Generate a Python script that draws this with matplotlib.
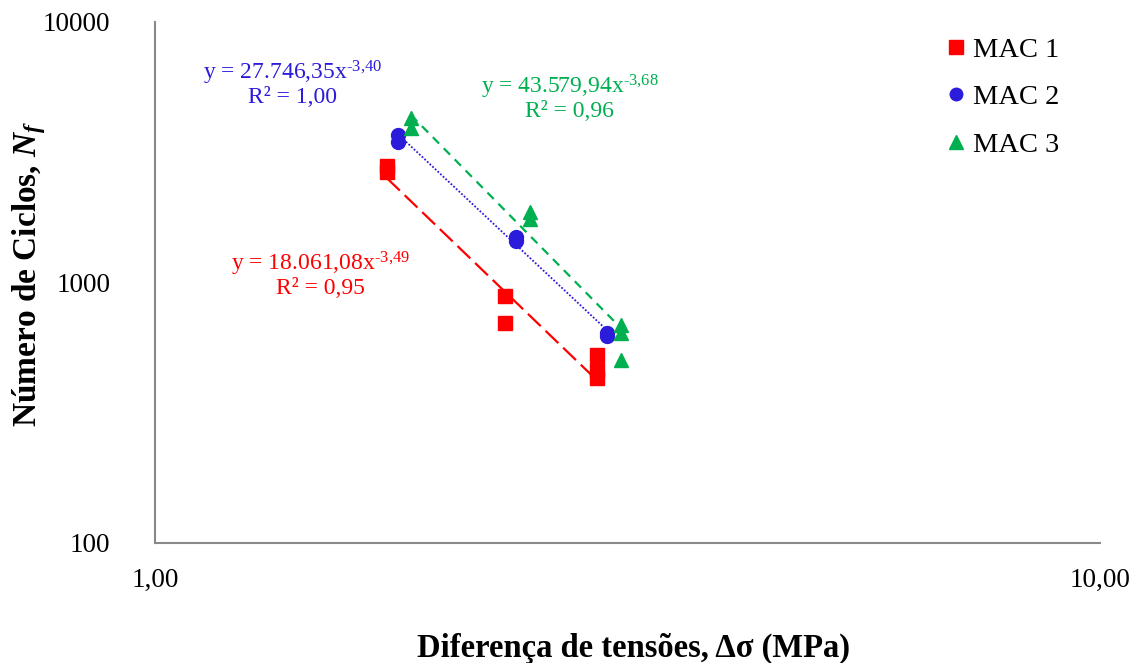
import numpy as np
import matplotlib
matplotlib.use("Agg")
import matplotlib.pyplot as plt
from matplotlib.ticker import FixedLocator, NullLocator

# data (stress difference in MPa, number of cycles)
mac1_x = [1.76, 1.76, 2.345, 2.345, 2.936, 2.936, 2.936]
mac1_y = [2800, 2650, 887, 700, 527, 461, 430]
mac2_x = [1.808, 1.808, 2.41, 2.41, 3.008, 3.008]
mac2_y = [3680, 3462, 1496, 1443, 640, 623]
mac3_x = [1.866, 1.866, 2.494, 2.494, 3.112, 3.112, 3.112]
mac3_y = [4280, 3918, 1865, 1753, 687, 640, 504]

# power law fits as shown on the chart: y = a * x^b
fit_a = [18061.08, 27746.35, 43579.94]
fit_b = [-3.49, -3.40, -3.68]
fit_r2 = ["0,95", "1,00", "0,96"]
fit_a_txt = ["18.061,08", "27.746,35", "43.579,94"]
fit_b_txt = ["-3,49", "-3,40", "-3,68"]

labels = ["MAC 1", "MAC 2", "MAC 3"]
colors = ["#FF0000", "#2B1BDB", "#00B050"]
markers = ["s", "o", "^"]
styles = [(0, (8, 3)), (0, (1, 1)), (0, (4, 3))]

plt.rcParams["font.family"] = "Liberation Serif"
plt.rcParams["mathtext.fontset"] = "custom"
plt.rcParams["mathtext.rm"] = "Liberation Serif"
plt.rcParams["mathtext.it"] = "Liberation Serif:italic:bold"
plt.rcParams["mathtext.bf"] = "Liberation Serif:bold"

fig = plt.figure(figsize=(11.44, 6.63), dpi=100)
ax = fig.add_axes([0.1355, 0.181, 0.826, 0.786])

xs = [mac1_x, mac2_x, mac3_x]
ys = [mac1_y, mac2_y, mac3_y]
for i in range(3):
    ax.plot(xs[i], ys[i], linestyle="none", marker=markers[i], color=colors[i],
            markersize=10.5 if i != 1 else 10, label=labels[i], zorder=3)
    xl = np.array([min(xs[i]), max(xs[i])])
    ax.plot(xl, fit_a[i] * xl ** fit_b[i], color=colors[i], linestyle=styles[i],
            linewidth=1.6 if i != 1 else 1.3, zorder=2)

ax.set_xscale("log")
ax.set_yscale("log")
ax.set_xlim(1, 10)
ax.set_ylim(100, 10000)
ax.xaxis.set_major_locator(FixedLocator([1, 10]))
ax.xaxis.set_minor_locator(NullLocator())
ax.yaxis.set_major_locator(FixedLocator([100, 1000, 10000]))
ax.yaxis.set_minor_locator(NullLocator())
ax.set_xticklabels(["1,00", "10,00"])
ax.set_yticklabels(["100", "1000", "10000"])
ax.tick_params(length=0, labelsize=19.5)
ax.tick_params(axis="y", pad=32)
ax.tick_params(axis="x", pad=18)

for s in ["top", "right"]:
    ax.spines[s].set_visible(False)
for s in ["left", "bottom"]:
    ax.spines[s].set_color("#898989")
    ax.spines[s].set_linewidth(1.5)

ax.set_xlabel("Diferença de tensões, Δσ (MPa)", fontsize=23.5, fontweight="bold")
ax.set_ylabel("Número de Ciclos, $N_f$", fontsize=24, fontweight="bold")
ax.xaxis.set_label_coords(0.506, -0.172)
ax.yaxis.set_label_coords(-0.113, 0.516)

# equation labels
eq_pos = [(0.175, 0.516), (0.146, 0.881), (0.439, 0.856)]
for i in range(3):
    txt = "y = %sx$^{\\text{%s}}$\nR² = %s" % (fit_a_txt[i], fit_b_txt[i], fit_r2[i])
    ax.text(eq_pos[i][0], eq_pos[i][1], txt, transform=ax.transAxes, color=colors[i],
            fontsize=17, ha="center", va="center", linespacing=1.0)

ax.legend(loc="upper right", bbox_to_anchor=(0.978, 1.01), frameon=False, fontsize=20.5,
          handletextpad=0.1, labelspacing=0.76, handlelength=1.0, markerscale=0.9,
          borderaxespad=0.3)

fig.savefig("out.png", dpi=100)
